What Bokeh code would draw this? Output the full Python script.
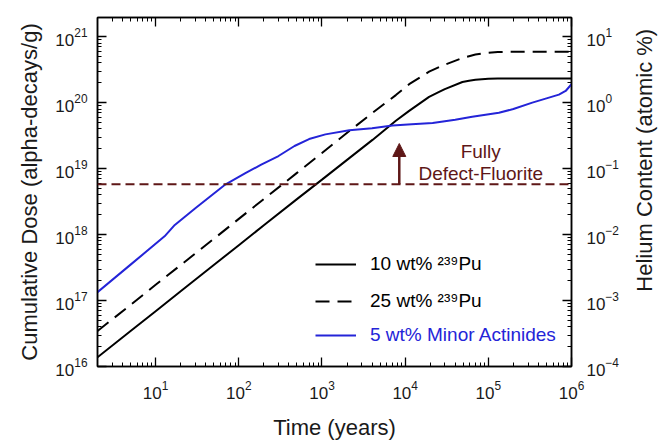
import math
from bokeh.plotting import figure
from bokeh.layouts import row
from bokeh.models import (Range1d, LogScale, LogAxis, FixedTicker, Legend, LegendItem,
                          Span, Arrow, NormalHead, Label)
from bokeh.embed import file_html
from bokeh.resources import INLINE

# ---------------- data ----------------
time_pu = [2, 5, 10, 20, 50, 100, 200, 500, 1000, 2130, 4050, 7730, 11170, 19400, 25600,
           30000, 48800, 58600, 70000, 100000, 130000, 177000, 300000, 500000, 1000000]
dose_10pu = [1.38e16, 3.45e16, 6.9e16, 1.38e17, 3.45e17, 6.9e17, 1.38e18, 3.44e18, 6.8e18,
             1.44e19, 2.72e19, 5.3e19, 7.5e19, 1.22e20, 1.45e20, 1.6e20, 2.05e20, 2.15e20,
             2.22e20, 2.3e20, 2.32e20, 2.32e20, 2.32e20, 2.32e20, 2.32e20]
dose_25pu = [3.45e16, 8.6e16, 1.73e17, 3.45e17, 8.6e17, 1.73e18, 3.45e18, 8.6e18, 1.72e19,
             3.7e19, 7.0e19, 1.3e20, 1.9e20, 2.95e20, 3.45e20, 3.75e20, 4.75e20, 5.05e20,
             5.35e20, 5.7e20, 5.85e20, 5.9e20, 5.9e20, 5.9e20, 5.9e20]
time_ma = [2, 5, 12.8, 17, 30, 67, 120, 186, 300, 467, 700, 1100, 2130, 4000, 7050, 12000,
           21400, 40000, 64000, 134000, 200000, 338000, 500000, 706000, 850000, 1000000]
dose_ma = [1.34e17, 3.5e17, 9.4e17, 1.4e18, 2.5e18, 5.6e18, 8.5e18, 1.15e19, 1.55e19,
           2.2e19, 2.8e19, 3.3e19, 3.8e19, 4.1e19, 4.5e19, 4.7e19, 4.9e19, 5.5e19, 6.1e19,
           7.0e19, 8.0e19, 1.0e20, 1.16e20, 1.32e20, 1.5e20, 1.9e20]

series_labels = ["10 wt% \u00b2\u00b3\u2079Pu", "25 wt% \u00b2\u00b3\u2079Pu",
                 "5 wt% Minor Actinides"]
left_axis_title = "Cumulative Dose (alpha-decays/g)"
right_axis_title = "Helium Content (atomic %)"
bottom_axis_title = "Time (years)"

threshold_dose = 5.8e18            # fully defect-fluorite dose
arrow_time = 8500
arrow_top = 2.4e19
note_time = 8.1e4
note_lines = ["Fully", "Defect-Fluorite"]
note_y = [1.8e19, 8.5e18]

x_major = [10, 100, 1000, 10000, 100000, 1000000]
y_major = [1e16, 1e17, 1e18, 1e19, 1e20, 1e21]
he_major = [1e-4, 1e-3, 1e-2, 1e-1, 1e0, 1e1]
he_per_dose = 1e-20                # atomic % He per alpha-decay/g
x_start, x_end = 2, 1e6
y_start, y_end = 1e16, 1.95e21

# ---------------- styling ----------------
FONT = "Liberation Sans"
BLUE = "#2424d8"
DARKRED = "#5e1717"
TXT = "#1a1a1a"
H = 440

p = figure(x_axis_type="log", y_axis_type="log", output_backend="svg",
           toolbar_location=None, width=629, height=H,
           frame_width=474, frame_height=349,
           x_range=Range1d(x_start, x_end), y_range=Range1d(y_start, y_end),
           min_border_left=97, min_border_right=58, min_border_top=17, min_border_bottom=74)
p.xgrid.visible = False
p.ygrid.visible = False
p.outline_line_color = "black"
p.outline_line_width = 1.5
p.background_fill_color = "white"
p.border_fill_color = "white"

p.extra_y_ranges = {"he": Range1d(y_start * he_per_dose, y_end * he_per_dose)}
p.extra_y_scales = {"he": LogScale()}


def minor_of(majors, lo, hi):
    out = []
    for m in [majors[0] / 10] + list(majors):
        for k in range(2, 10):
            v = m * k
            if lo <= v <= hi:
                out.append(v)
    return out


def style_axis(ax):
    ax.axis_line_color = "black"
    ax.axis_line_width = 1.5
    ax.major_tick_in = 9
    ax.major_tick_out = 0
    ax.minor_tick_in = 4
    ax.minor_tick_out = 0
    ax.major_tick_line_color = "black"
    ax.minor_tick_line_color = "black"
    ax.major_tick_line_width = 1.3
    ax.minor_tick_line_width = 1
    ax.major_label_text_font = FONT
    ax.major_label_text_font_size = "17px"
    ax.major_label_text_color = TXT
    ax.axis_label_text_font = FONT
    ax.axis_label_text_font_size = "22px"
    ax.axis_label_text_font_style = "normal"
    ax.axis_label_text_color = TXT


xb = p.xaxis[0]
xb.ticker = FixedTicker(ticks=x_major, minor_ticks=minor_of(x_major, x_start, x_end))
style_axis(xb)
xb.axis_label = bottom_axis_title
xb.major_label_standoff = 14
xb.axis_label_standoff = 13

yl = p.yaxis[0]
yl.ticker = FixedTicker(ticks=y_major, minor_ticks=minor_of(y_major, y_start, y_end))
style_axis(yl)
yl.axis_label = left_axis_title
yl.major_label_standoff = 10
yl.axis_label_standoff = 10

yr = LogAxis(y_range_name="he",
             ticker=FixedTicker(ticks=he_major,
                                minor_ticks=minor_of(he_major, y_start * he_per_dose,
                                                     y_end * he_per_dose)))
style_axis(yr)
yr.major_label_standoff = 15
p.add_layout(yr, "right")

xt = LogAxis(ticker=FixedTicker(ticks=x_major, minor_ticks=minor_of(x_major, x_start, x_end)))
style_axis(xt)
xt.major_label_text_font_size = "1px"
xt.major_label_text_alpha = 0
xt.major_label_standoff = 0
p.add_layout(xt, "above")

# threshold line
p.add_layout(Span(location=threshold_dose, dimension="width", line_color=DARKRED,
                  line_width=2, line_dash="9 5"))

r1 = p.line(time_pu, dose_10pu, line_color="black", line_width=2)
r2 = p.line(time_pu, dose_25pu, line_color="black", line_width=2, line_dash="14 8")
r3 = p.line(time_ma, dose_ma, line_color=BLUE, line_width=2)

p.add_layout(Arrow(end=NormalHead(size=13, fill_color=DARKRED, line_color=DARKRED),
                   x_start=arrow_time, y_start=threshold_dose, x_end=arrow_time, y_end=arrow_top,
                   line_color=DARKRED, line_width=2.5))
for txt, yy in zip(note_lines, note_y):
    p.add_layout(Label(x=note_time, y=yy, text=txt, text_align="center", text_baseline="middle",
                       text_font=FONT, text_font_size="19px", text_color=DARKRED))


def make_legend(items, color, loc):
    lg = Legend(items=items, location=loc, label_text_font=FONT, label_text_font_size="19px",
                label_text_color=color, glyph_width=41, glyph_height=20, label_height=20,
                label_standoff=14, spacing=15, padding=0, margin=0,
                border_line_color=None, background_fill_alpha=0)
    p.add_layout(lg, "center")


make_legend([LegendItem(label=series_labels[0], renderers=[r1]),
             LegendItem(label=series_labels[1], renderers=[r2])], "black", (218, 54))
make_legend([LegendItem(label=series_labels[2], renderers=[r3])], BLUE, (218, 20))

# narrow strip on the right carrying the right-axis title (reads bottom-to-top)
strip = figure(width=30, height=H, output_backend="svg", toolbar_location=None,
               x_range=Range1d(0, 1), y_range=Range1d(0, H),
               min_border_left=0, min_border_right=0, min_border_top=0, min_border_bottom=0)
strip.axis.visible = False
strip.grid.visible = False
strip.outline_line_color = None
strip.background_fill_color = "white"
strip.border_fill_color = "white"
strip.add_layout(Label(x=0.5, y=H - 181, text=right_axis_title, angle=math.pi / 2,
                       text_align="center", text_baseline="middle",
                       text_font=FONT, text_font_size="22px", text_color=TXT))

layout = row(p, strip, spacing=0)
open("out.html", "w").write(file_html(layout, INLINE))
